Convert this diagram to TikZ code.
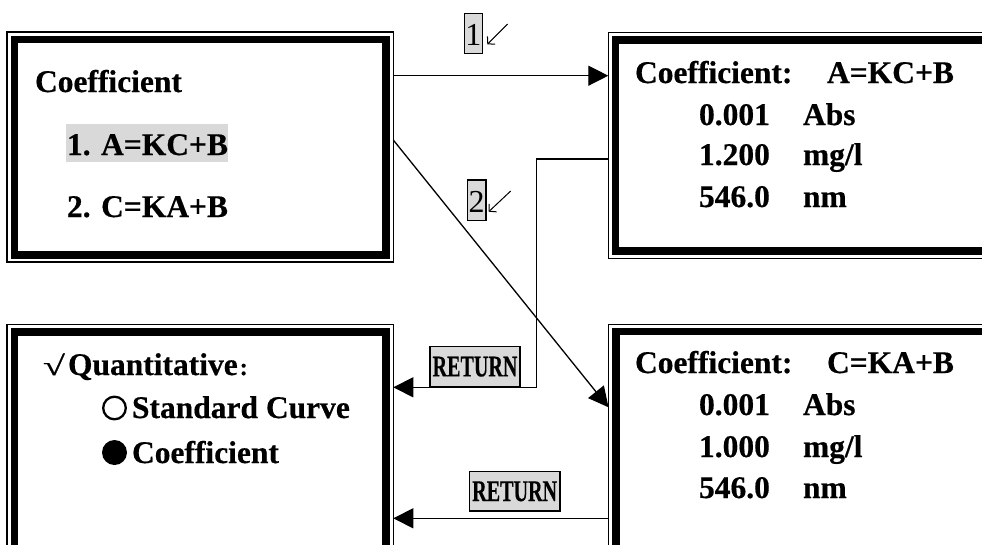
\documentclass[tikz,border=0pt]{standalone}
\usepackage{fontspec}
\setmainfont{Liberation Serif}[BoldFeatures={FakeBold=0.5}]
\usepackage{graphicx}
\usetikzlibrary{arrows.meta}
\definecolor{hl}{HTML}{D9D9D9}
\newcommand\fsz{\fontsize{31.5}{38}\selectfont}
\newcommand\innerframe[1]{\draw[line width=7.5pt] ([shift={(7.3,7.3)}]#1.north west) rectangle ([shift={(-7.3,-7.3)}]#1.south east);}
\begin{document}
\begin{tikzpicture}[x=1pt,y=-1pt,
  frame/.style={draw, line width=1.5pt, inner sep=0pt, outer sep=0pt, anchor=north west},
  txt/.style={anchor=base west, inner sep=0pt, outer sep=0pt, font=\bfseries\fsz},
  conn/.style={line width=1.3pt, -{Triangle[length=20pt,width=20pt]}},
  small/.style={line width=1pt, -{Straight Barb[length=5pt,width=11pt]}},
  lab/.style={draw, fill=hl, line width=1.3pt, inner sep=0pt, outer sep=0pt, anchor=north west},
  retlab/.style={lab, font=\bfseries\fontsize{30}{36}\selectfont}]
\useasboundingbox (0,0) rectangle (982,544);
\fill[white] (0,0) rectangle (982,544);
\clip (0,0) rectangle (982,544);

% frames
\node[frame, minimum width=386.1pt, minimum height=230pt] (tl) at (7.2,32.2) {};
\node[frame, minimum width=400pt, minimum height=225.6pt] (tr) at (608.3,32.7) {};
\node[frame, minimum width=386.1pt, minimum height=240pt] (bl) at (7.2,324.5) {};
\node[frame, minimum width=400pt, minimum height=240pt] (br) at (608.5,324.3) {};
\innerframe{tl}
\innerframe{tr}
\innerframe{bl}
\innerframe{br}

% top-left texts
\node[txt] (tl1) at (35,92) {Coefficient};
\node[txt, fill=hl, text height=31pt, text depth=7pt] (tl2) at (66,155) {\hspace{1pt}1. A=KC+B};
\node[txt] (tl3) at (67,217) {2. C=KA+B};

% top-right texts
\node[txt] (tr1) at (635,83) {\makebox[192pt][l]{Coefficient:}A=KC+B};
\node[txt] (tr2) at (699,125) {\makebox[104pt][l]{0.001}Abs};
\node[txt] (tr3) at (699,165) {\makebox[104pt][l]{1.200}mg/l};
\node[txt] (tr4) at (699,207) {\makebox[104pt][l]{546.0}nm};

% bottom-right texts
\node[txt] (br1) at (635,373) {\makebox[192pt][l]{Coefficient:}C=KA+B};
\node[txt] (br2) at (699,415) {\makebox[104pt][l]{0.001}Abs};
\node[txt] (br3) at (699,457) {\makebox[104pt][l]{1.000}mg/l};
\node[txt] (br4) at (699,498) {\makebox[104pt][l]{546.0}nm};

% bottom-left texts
\node[txt, font=\bfseries\fontsize{32}{34}\selectfont] (chk) at (43,375) {\scalebox{1.25}[0.85]{√}};
\node[txt] (bl1) at (68,375) {Quantitative\hspace{2pt}{\fontsize{24}{24}\selectfont :}};
\draw[line width=2.3pt] (114.5,408) circle (11.3);
\fill (114.5,452.5) circle (12.5);
\node[txt] (bl2) at (132,418) {Standard Curve};
\node[txt] (bl3) at (132,463) {Coefficient};

% connectors
\coordinate (y1) at (0,75.7);
\draw[conn] (tl.east |- y1) -- (tr.west |- y1);
\coordinate (y2a) at (0,140);
\coordinate (y2b) at (0,407.3);
\draw[conn] (tl.east |- y2a) -- (br.west |- y2b);
\coordinate (r1) at (0,159);
\coordinate (bend) at (536.7,387.3);
\draw[conn] (tr.west |- r1) -| (bend) -- (bl.east |- bend);
\coordinate (r2) at (0,518.3);
\draw[conn] (br.west |- r2) -- (bl.east |- r2);

% labels
\node[lab, minimum width=18pt, text height=31.7pt, text depth=8.3pt, font=\fontsize{32}{38}\selectfont] (n1) at (464.3,13.3) {1};
\node[lab, minimum width=18.7pt, text height=32.2pt, text depth=8.5pt, font=\fontsize{32}{38}\selectfont] (n2) at (467.3,180) {2};
\node[retlab, minimum width=90pt, minimum height=40pt] (ret1) at (430,346.7) {\scalebox{0.67}[1]{RETURN}};
\node[retlab, minimum width=90.7pt, minimum height=39.3pt] (ret2) at (469.3,471.7) {\scalebox{0.67}[1]{RETURN}};

% small arrows
\coordinate (s1a) at (507.7,24);
\coordinate (s1b) at (487.3,44.3);
\draw[small] (s1a) -- (s1b);
\coordinate (s2a) at (510.7,191);
\coordinate (s2b) at (488.7,211.7);
\draw[small] (s2a) -- (s2b);
\end{tikzpicture}
\end{document}
